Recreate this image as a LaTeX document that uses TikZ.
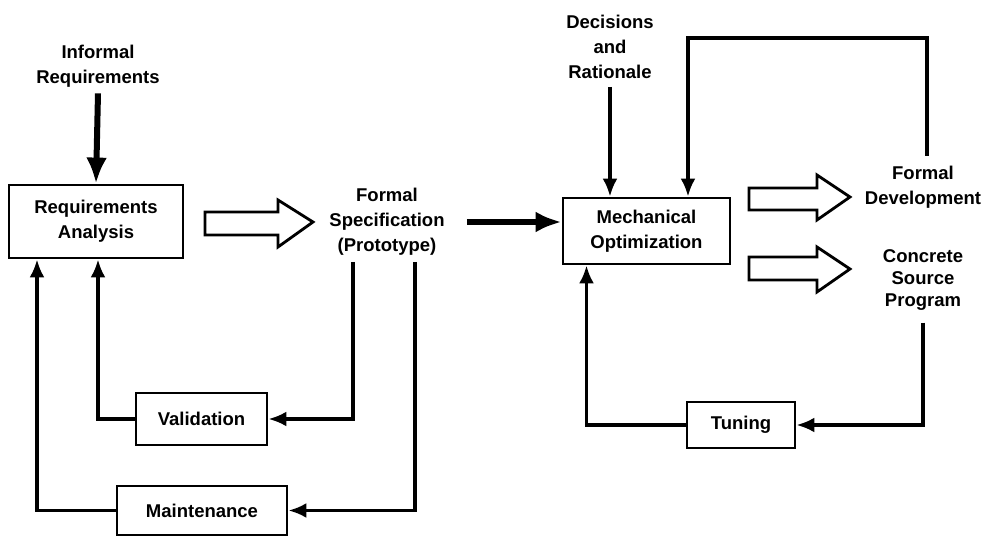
\documentclass[tikz,border=0pt]{standalone}
\usepackage{fontspec}
\setmainfont{Liberation Sans}
\usetikzlibrary{arrows.meta}
\newcommand\DiagFont{\fontsize{18.5}{25}\selectfont\bfseries}
\begin{document}
\begin{tikzpicture}[x=1pt,y=-1pt,
  box/.style={draw, line width=2.8pt, inner sep=0pt, align=center, font=\DiagFont},
  lbl/.style={align=center, inner sep=2pt, font=\DiagFont},
  fb/.style={line width=3.4pt, -{Latex[length=18pt,width=15pt]}},
  thk/.style={line width=6pt, -{Latex[length=26pt,width=21pt]}},
  hollow/.style={draw, line width=2.8pt, fill=white, line join=miter}]
\useasboundingbox (0,0) rectangle (988,537);

% boxes
\node[box, minimum width=174pt, minimum height=73pt] (reqan) at (96,221.5) {Requirements\\Analysis};
\node[box, minimum width=131pt, minimum height=52pt] (val) at (201.5,419) {Validation};
\node[box, minimum width=170pt, minimum height=49pt] (maint) at (202,510.5) {Maintenance};
\node[box, minimum width=167pt, minimum height=66pt] (mech) at (646.5,231) {Mechanical\\Optimization};
\node[box, minimum width=108pt, minimum height=46pt] (tun) at (741,425) {Tuning};

% labels
\node[lbl] (infreq) at (98,66) {Informal\\Requirements};
\node[lbl] (fspec) at (387,222) {Formal\\Specification\\(Prototype)};
\node[lbl] (dec) at (610,47) {Decisions\\and\\Rationale};
\node[lbl] (fdev) at (923,187) {Formal\\Development};
\node[lbl, font=\fontsize{18.5}{22}\selectfont\bfseries] (cprog) at (923,280) {Concrete\\Source\\Program};

% hollow arrows
\draw[hollow] (205,212) -- (278,212) -- (278,200) -- (313,222) -- (278,247) -- (278,235) -- (205,235) -- cycle;
\draw[hollow] (749,188) -- (817,188) -- (817,175) -- (850,197) -- (817,220) -- (817,210) -- (749,210) -- cycle;
\draw[hollow] (749,257) -- (817,257) -- (817,247) -- (850,269) -- (817,292) -- (817,280) -- (749,280) -- cycle;

% thick input arrows
\draw[thk] ([yshift=-4pt]infreq.south) -- (reqan.north);
\draw[thk] ([xshift=20pt]fspec.east) -- (fspec.east -| mech.west);
\draw[fb] ([yshift=-6pt]dec.south) -- (dec.south |- mech.north);

% feedback loops (left)
\draw[fb] ([xshift=-34pt,yshift=-4pt]fspec.south) |- (val.east);
\draw[fb] (val.west) -| ([xshift=2pt]reqan.south);
\draw[fb] ([xshift=28pt,yshift=-4pt]fspec.south) |- (maint.east);
\draw[fb] (maint.west) -| ([xshift=-59pt]reqan.south);

% feedback loops (right)
\coordinate (loop) at (688,38);
\draw[fb] ([xshift=4pt,yshift=8pt]fdev.north) |- (loop) -- (loop |- mech.north);
\draw[fb] ([yshift=-10pt]cprog.south) |- (tun.east);
\draw[fb] (tun.west) -| ([xshift=-60pt]mech.south);
\end{tikzpicture}
\end{document}
